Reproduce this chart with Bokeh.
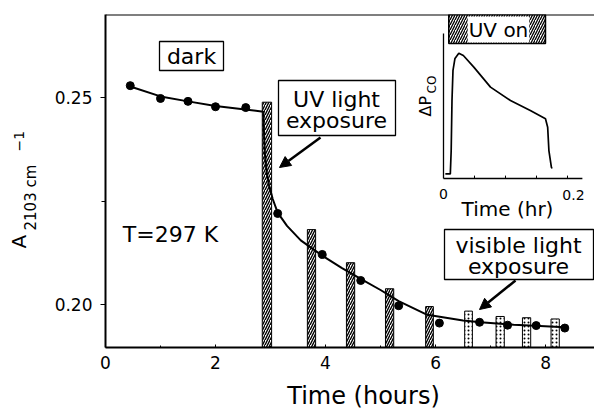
from math import pi
from bokeh.plotting import figure
from bokeh.layouts import row, column
from bokeh.models import (Range1d, FixedTicker, Label, Span, BoxAnnotation, Arrow,
                          NormalHead, PrintfTickFormatter)
from bokeh.embed import file_html
from bokeh.resources import INLINE

FONT = "DejaVu Sans"

# ---------------- data ----------------
time_h = [0.45, 1.0, 1.5, 2.0, 2.55, 3.13, 3.94, 4.64, 5.33, 6.07, 6.8, 7.31, 7.83, 8.35]
absorb = [0.2529, 0.2498, 0.2491, 0.2478, 0.2476, 0.2220, 0.2121, 0.2058, 0.1997,
          0.1955, 0.1957, 0.1950, 0.1949, 0.1943]

fit_t = [0.45, 1.0, 1.5, 2.0, 2.5, 2.87, 2.88, 2.90, 2.93, 2.97, 3.04, 3.13, 3.3, 3.55,
         3.94, 4.3, 4.64, 5.0, 5.33, 5.85, 6.5, 6.82, 7.42, 7.9, 8.35]
fit_A = [0.2527, 0.2503, 0.2491, 0.2480, 0.2472, 0.2466, 0.2420, 0.2360, 0.2320, 0.2290,
         0.2255, 0.2222, 0.2190, 0.2155, 0.2118, 0.2088, 0.2062, 0.2035, 0.2008, 0.1975,
         0.1961, 0.1957, 0.1951, 0.1948, 0.1945]

uv_start = [2.85, 3.67, 4.38, 5.09, 5.82]
uv_end = [3.02, 3.82, 4.53, 5.24, 5.96]
uv_top = [0.2489, 0.2181, 0.2101, 0.2038, 0.1995]

vis_start = [6.53, 7.10, 7.58, 8.10]
vis_end = [6.67, 7.25, 7.73, 8.25]
vis_top = [0.1984, 0.1971, 0.1968, 0.1965]

x_ticks = [0, 2, 4, 6, 8]
x_minor = [1, 3, 5, 7]
y_ticks = [0.20, 0.25]
y_minor = [0.225]

# inset: CO pressure change during UV on (time in hr, arbitrary units)
inset_t = [0.003, 0.011, 0.0124, 0.0137, 0.0153, 0.0185, 0.0247, 0.032, 0.0489, 0.0758,
           0.108, 0.140, 0.1645, 0.168, 0.170, 0.174, 0.175]
inset_dp = [0.032, 0.032, 0.193, 0.538, 0.745, 0.828, 0.864, 0.848, 0.768, 0.630,
            0.538, 0.469, 0.412, 0.354, 0.193, 0.078, 0.069]
inset_ticks = [0.05, 0.1, 0.15, 0.2]
uv_on_start, uv_on_end = 0.0085, 0.1645

X0, X1 = 0.0, 8.89
Y0, Y1 = 0.1896, 0.2701

LEFT_W = 50          # width of the strip holding the y title
MAIN_H = 375         # height of the main figure (bottom strip holds the x title)

# ---------------- main figure ----------------
p = figure(width=594 - LEFT_W, height=MAIN_H, output_backend="svg", toolbar_location=None,
           x_range=Range1d(X0, X1), y_range=Range1d(Y0, Y1),
           min_border_left=105 - LEFT_W, min_border_right=0, min_border_top=14,
           min_border_bottom=MAIN_H - 347)
p.outline_line_color = None
p.grid.visible = False
p.background_fill_color = "white"
p.border_fill_color = "white"

# helper ranges: page-pixel coordinates and inset coordinates
p.extra_x_ranges = {"px": Range1d(105, 594), "ix": Range1d(-0.54516, 0.24355)}
p.extra_y_ranges = {"px": Range1d(347, 14), "iy": Range1d(-1.16552, 1.13103)}

xa = p.xaxis[0]
xa.ticker = FixedTicker(ticks=x_ticks, minor_ticks=x_minor)
xa.major_tick_in = 3
xa.major_tick_out = 0
xa.minor_tick_in = 2
xa.minor_tick_out = 0
xa.axis_line_width = 2
xa.axis_line_color = "black"
xa.major_tick_line_color = "black"
xa.minor_tick_line_color = "black"
xa.major_label_text_font = FONT
xa.major_label_text_font_size = "17px"
xa.major_label_text_color = "black"
xa.major_label_standoff = 8

ya = p.yaxis[0]
ya.ticker = FixedTicker(ticks=y_ticks, minor_ticks=y_minor)
ya.formatter = PrintfTickFormatter(format="%.2f")
ya.major_tick_in = 0
ya.major_tick_out = 5
ya.minor_tick_in = 0
ya.minor_tick_out = 4
ya.axis_line_width = 2
ya.axis_line_color = "black"
ya.major_tick_line_color = "black"
ya.minor_tick_line_color = "black"
ya.major_label_text_font = FONT
ya.major_label_text_font_size = "17px"
ya.major_label_text_color = "black"
ya.major_label_standoff = 8

p.add_layout(Span(location=Y1, dimension="width", line_color="black", line_width=2))

# exposure bars
p.quad(left=uv_start, right=uv_end, bottom=Y0, top=uv_top, fill_color="white",
       line_color="black", line_width=1, hatch_pattern="/", hatch_color="black",
       hatch_scale=5, hatch_weight=1.4)
p.quad(left=vis_start, right=vis_end, bottom=Y0, top=vis_top, fill_color="white",
       line_color="black", line_width=1, hatch_pattern=".", hatch_color="black",
       hatch_scale=4, hatch_weight=1)

# fit curve and data
p.line(fit_t, fit_A, line_color="black", line_width=2)
p.scatter(time_h, absorb, size=8, color="black")

# inset
p.line(inset_t, inset_dp, x_range_name="ix", y_range_name="iy", line_color="black", line_width=1.7)
p.segment(x0=[0, 0], y0=[0, 0], x1=[0, 0.224], y1=[1.0, 0], x_range_name="ix", y_range_name="iy",
          line_color="black", line_width=1.3)
p.segment(x0=inset_ticks, y0=[0] * len(inset_ticks), x1=inset_ticks, y1=[0.02] * len(inset_ticks),
          x_range_name="ix", y_range_name="iy", line_color="black", line_width=1)
p.quad(left=[uv_on_start], right=[uv_on_end], bottom=[0.931], top=[1.131],
       x_range_name="ix", y_range_name="iy", fill_color="white", line_color="black",
       line_width=1.5, hatch_pattern="/", hatch_color="black", hatch_scale=5, hatch_weight=1.3)


def lab(fig, x, y, text, size, angle=0.0, align="center", baseline="middle", bg=None, pad=0,
        xr="px", yr="px"):
    kw = {}
    if bg is not None:
        kw = dict(background_fill_color=bg, background_fill_alpha=1.0, padding=pad)
    if xr is not None:
        kw["x_range_name"] = xr
        kw["y_range_name"] = yr
    fig.add_layout(Label(x=x, y=y, text=text, text_font=FONT, text_font_size=size,
                         angle=angle, text_align=align, text_baseline=baseline,
                         text_color="black", **kw))


def box(l, r, t, b):
    p.add_layout(BoxAnnotation(left=l, right=r, top=t, bottom=b, x_range_name="px",
                               y_range_name="px", fill_color="white", fill_alpha=1.0,
                               line_color="black", line_width=1.3, line_alpha=1.0))


box(159, 223, 41, 70)
box(278, 395, 80, 135)
box(444, 593, 229, 279)

lab(p, 191, 56, "dark", "22px")
lab(p, 336, 99, "UV light", "22px")
lab(p, 336, 120, "exposure", "22px")
lab(p, 518, 245, "visible light", "22px")
lab(p, 518, 266, "exposure", "22px")
lab(p, 170, 234, "T=297 K", "22px")
lab(p, 498, 29, "UV on", "20px", bg="white", pad=1)

# inset labels
lab(p, 443, 193, "0", "14px")
lab(p, 573, 194, "0.2", "14px")
lab(p, 507, 208, "Time (hr)", "20px")
lab(p, 425, 116, "\u0394P", "16px", angle=pi / 2, align="left", baseline="alphabetic")
lab(p, 431, 93, "CO", "12px", angle=pi / 2, align="left", baseline="alphabetic")

# arrows
p.add_layout(Arrow(end=NormalHead(size=11, fill_color="black", line_color="black"),
                   x_start=320, y_start=137, x_end=279, y_end=167,
                   x_range_name="px", y_range_name="px", line_color="black", line_width=2.5))
p.add_layout(Arrow(end=NormalHead(size=11, fill_color="black", line_color="black"),
                   x_start=515, y_start=280, x_end=479, y_end=309,
                   x_range_name="px", y_range_name="px", line_color="black", line_width=2.5))


def strip(w, h, xr, yr):
    f = figure(frame_width=w, frame_height=h, output_backend="svg", toolbar_location=None,
               x_range=Range1d(*xr), y_range=Range1d(*yr), title=None,
               x_axis_type=None, y_axis_type=None, min_border=0,
               min_border_left=0, min_border_right=0, min_border_top=0, min_border_bottom=0)
    f.outline_line_color = None
    f.grid.visible = False
    f.background_fill_color = "white"
    f.border_fill_color = "white"
    return f


# ---------------- left strip: y title A_{2103 cm^-1} ----------------
lf = strip(LEFT_W, 408, (0, LEFT_W), (408, 0))
lab(lf, 18, 248, "A", "20px", angle=pi / 2, align="left", baseline="middle", xr=None)
lab(lf, 30, 230, "2103 cm", "15px", angle=pi / 2, align="left", baseline="middle", xr=None)
lab(lf, 18, 151, "\u22121", "14px", angle=pi / 2, align="left", baseline="middle", xr=None)

# ---------------- bottom strip: x title (its frame is aligned with the main frame) ----------------
bf = strip(594 - 105, 408 - MAIN_H, (105, 594), (408, MAIN_H))
lab(bf, 363, 395, "Time (hours)", "24px", xr=None)

layout = row(lf, column(p, bf, spacing=0), spacing=0)
open("out.html", "w").write(file_html(layout, INLINE))
